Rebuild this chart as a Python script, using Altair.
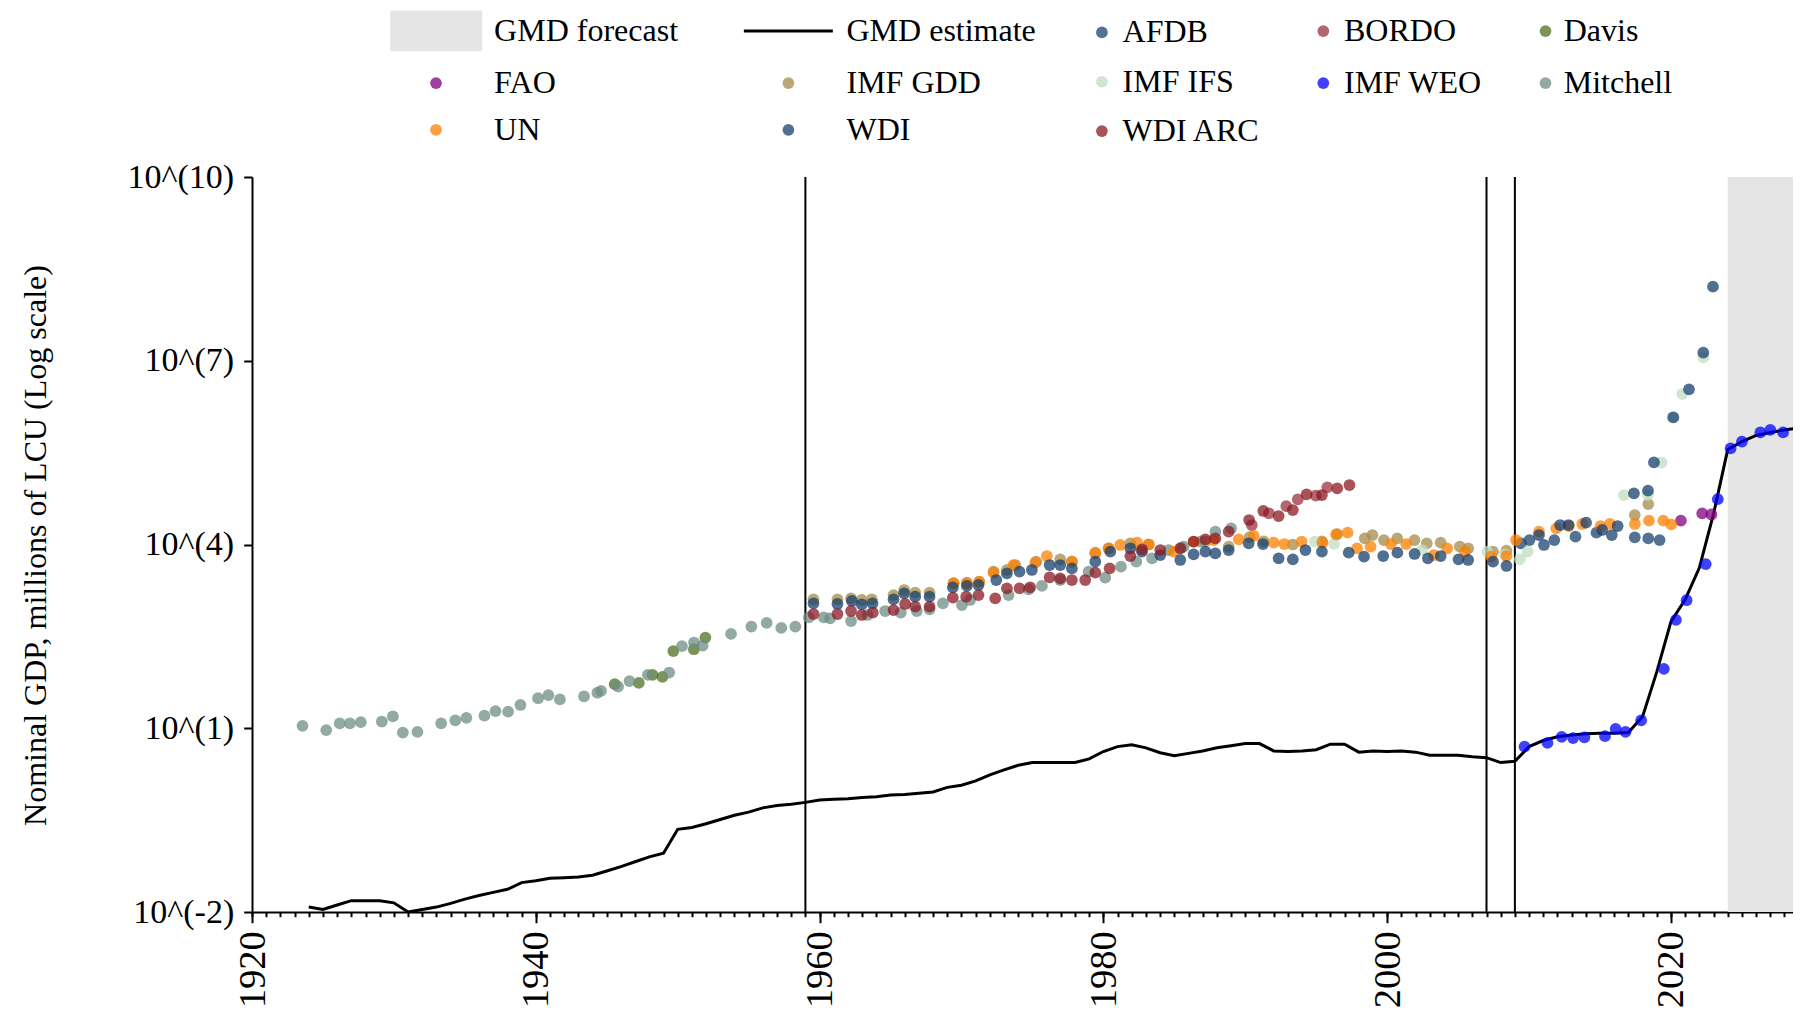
import altair as alt
import pandas as pd

FONT = "Liberation Serif"

# ---------------- data (values are log10 of nominal GDP, millions of LCU) ----------------
gmd_years = list(range(1924, 2030))
gmd_log = [
    -1.92, -1.96, -1.886, -1.815, -1.815, -1.815, -1.85, -2.0, -1.96, -1.92,   # 1924-1933
    -1.86, -1.79, -1.73, -1.68, -1.63, -1.52, -1.49, -1.45, -1.44, -1.43,      # 1934-1943
    -1.40, -1.33, -1.26, -1.18, -1.10, -1.04, -0.65, -0.62, -0.56, -0.49,      # 1944-1953
    -0.42, -0.37, -0.30, -0.26, -0.24, -0.21, -0.17, -0.16, -0.15, -0.13,      # 1954-1963
    -0.12, -0.09, -0.08, -0.06, -0.04, 0.035, 0.07, 0.14, 0.24, 0.32,          # 1964-1973
    0.395, 0.44, 0.44, 0.44, 0.44, 0.50, 0.62, 0.70, 0.73, 0.68,               # 1974-1983
    0.60, 0.55, 0.59, 0.63, 0.68, 0.715, 0.75, 0.75, 0.63, 0.62,               # 1984-1993
    0.63, 0.65, 0.74, 0.74, 0.61, 0.63, 0.62, 0.63, 0.61, 0.56,                # 1994-2003
    0.56, 0.56, 0.535, 0.52, 0.44, 0.46, 0.70, 0.80, 0.86, 0.89,               # 2004-2013
    0.91, 0.92, 0.92, 0.93, 1.19, 1.92, 2.74, 3.10, 3.62, 4.50,                # 2014-2023
    5.55, 5.68, 5.78, 5.83, 5.87, 5.90,                                        # 2024-2029
]

afdb_year = [2009.43, 2010.03, 2011.05, 2011.78, 2013.27, 2014.75, 2015.83, 2017.45, 2018.4, 2019.2]
afdb_log = [4.019, 4.073, 3.992, 4.073, 4.128, 4.193, 4.155, 4.117, 4.10, 4.073]

bordo_year = [1990.46, 1991.67, 1992.89, 1993.7, 1994.97, 1995.78]
bordo_log = [4.318, 4.509, 4.628, 4.737, 4.797, 4.933]

davis_year = [1945.56, 1947.26, 1948.23, 1948.93, 1949.69, 1951.14, 1951.95]
davis_log = [1.72, 1.74, 1.87, 1.84, 2.26, 2.29, 2.48]

fao_year = [2020.7, 2022.2, 2022.85]
fao_log = [4.389, 4.509, 4.49]

imf_gdd_year = [1959.57, 1961.26, 1962.22, 1962.97, 1963.68, 1965.21, 1965.96, 1966.74, 1967.75, 1969.44,
                1970.38, 1971.25, 1972.26, 1973.2, 1973.79, 1975.27, 1976.96, 1977.78, 1979.43, 1980.37,
                1981.9, 1983.2, 1985.5, 1987.2, 1988.83, 1990.3, 1991.3, 1993.35, 1995.4, 1996.48,
                1998.42, 1998.96, 1999.77, 2000.71, 2001.93, 2002.79, 2003.77, 2005.12, 2005.71, 2007.46,
                2008.4, 2017.45, 2018.4]
imf_gdd_log = [3.105, 3.105, 3.12, 3.094, 3.105, 3.175, 3.257, 3.214, 3.214, 3.366,
               3.377, 3.393, 3.557, 3.584, 3.665, 3.72, 3.758, 3.72, 3.856, 3.937,
               4.019, 4.0, 3.95, 4.05, 3.965, 4.12, 4.05, 4.0, 4.05, 4.17,
               4.10, 4.155, 4.073, 4.10, 4.073, 4.019, 4.03, 3.964, 3.937, 3.883,
               3.9, 4.48, 4.66]

imf_ifs_year = [1994.9, 1996.26, 2002.47, 2007.06, 2008.27, 2009.35, 2009.9, 2016.69, 2018.38, 2019.34,
                2020.1, 2020.8, 2022.28]
imf_ifs_log = [4.046, 4.01, 3.91, 3.883, 3.84, 3.758, 3.883, 4.808, 4.808, 5.336,
               6.076, 6.457, 7.056]

imf_weo_year = [2009.68, 2011.3, 2012.3, 2013.1, 2013.9, 2015.35, 2016.1, 2016.8, 2017.9, 2019.5,
                2020.35, 2021.1, 2022.45, 2023.3, 2024.2, 2025.0, 2026.3, 2027.0, 2027.9, 2029.2]
imf_weo_log = [0.70, 0.76, 0.86, 0.84, 0.85, 0.87, 0.99, 0.94, 1.13, 1.97,
               2.77, 3.09, 3.68, 4.74, 5.57, 5.68, 5.83, 5.87, 5.83, 5.90]

mitchell_year = [1923.56, 1925.23, 1926.18, 1926.9, 1927.67, 1929.15, 1929.93, 1930.63, 1931.66, 1933.33,
                 1934.33, 1935.11, 1936.38, 1937.16, 1938.05, 1938.92, 1940.16, 1940.89, 1941.7, 1943.4,
                 1944.34, 1944.6, 1945.8, 1946.6, 1947.9, 1949.4, 1950.3, 1951.15, 1951.76, 1953.76,
                 1955.19, 1956.27, 1957.3, 1958.29, 1959.24, 1960.3, 1960.74, 1962.22, 1963.37, 1964.62,
                 1965.72, 1966.85, 1967.75, 1968.69, 1970.03, 1970.61, 1973.32, 1974.73, 1975.67, 1976.96,
                 1978.96, 1980.13, 1981.24, 1982.32, 1983.43, 1984.6, 1985.66, 1986.83, 1987.89, 1989.0]
mitchell_log = [1.04, 0.97, 1.08, 1.08, 1.10, 1.11, 1.195, 0.93, 0.94, 1.08,
                1.13, 1.17, 1.205, 1.28, 1.27, 1.38, 1.49, 1.54, 1.47, 1.52,
                1.58, 1.61, 1.68, 1.77, 1.87, 1.91, 2.34, 2.40, 2.35, 2.54,
                2.66, 2.72, 2.64, 2.66, 2.81, 2.81, 2.795, 2.751, 2.849, 2.914,
                2.887, 2.914, 2.941, 3.04, 3.012, 3.094, 3.175, 3.268, 3.323, 3.42,
                3.557, 3.458, 3.638, 3.72, 3.774, 3.91, 3.965, 4.046, 4.21, 4.264]

un_year = [1969.44, 1970.38, 1971.25, 1972.26, 1973.67, 1975.2, 1976.02, 1977.78, 1979.43, 1980.37,
           1981.19, 1982.37, 1983.19, 1984.95, 1986.36, 1987.77, 1989.54, 1990.6, 1992.01, 1992.75,
           1993.97, 1995.45, 1996.4, 1997.21, 1997.88, 1998.83, 2000.26, 2001.34, 2003.28, 2004.23,
           2005.49, 2007.33, 2008.41, 2009.08, 2010.7, 2011.92, 2012.81, 2013.75, 2015.04, 2015.7,
           2017.46, 2018.45, 2019.46, 2020.02]
un_log = [3.37, 3.366, 3.39, 3.54, 3.665, 3.703, 3.812, 3.72, 3.866, 3.937,
          3.992, 4.03, 4.003, 3.883, 4.046, 4.073, 4.084, 4.139, 4.03, 4.008,
          4.046, 4.03, 4.166, 4.193, 3.937, 3.964, 4.008, 4.008, 3.828, 3.937,
          3.883, 3.801, 3.812, 4.073, 4.209, 4.264, 4.302, 4.335, 4.302, 4.335,
          4.335, 4.389, 4.389, 4.329]

wdi_year = [1959.57, 1961.26, 1962.27, 1962.97, 1963.73, 1965.21, 1965.96, 1966.74, 1967.75, 1969.39,
            1970.38, 1971.2, 1972.45, 1973.2, 1974.09, 1974.96, 1976.21, 1976.96, 1977.78, 1979.43,
            1980.49, 1981.9, 1982.72, 1984.01, 1985.42, 1986.36, 1987.19, 1987.89, 1988.83, 1990.24,
            1991.25, 1992.35, 1993.35, 1994.24, 1995.4, 1997.29, 1998.37, 1999.72, 2000.72, 2001.93,
            2002.87, 2003.77, 2005.03, 2005.71, 2007.46, 2008.41, 2010.7, 2012.19, 2012.78, 2014.02,
            2015.15, 2016.24, 2017.39, 2018.38, 2018.8, 2020.17, 2021.27, 2022.28, 2022.96]
wdi_log = [3.04, 3.029, 3.078, 3.023, 3.04, 3.105, 3.203, 3.148, 3.148, 3.301,
           3.323, 3.339, 3.42, 3.529, 3.557, 3.584, 3.665, 3.665, 3.611, 3.72,
           3.883, 3.937, 3.883, 3.828, 3.747, 3.84, 3.883, 3.856, 3.91, 4.019,
           4.008, 3.774, 3.758, 3.91, 3.883, 3.866, 3.801, 3.812, 3.866, 3.845,
           3.774, 3.812, 3.758, 3.747, 3.72, 3.649, 4.155, 4.318, 4.318, 4.356,
           4.237, 4.302, 4.835, 4.879, 5.341, 6.076, 6.533, 7.132, 8.209]

wdi_arc_year = [1959.57, 1961.26, 1962.22, 1962.97, 1963.75, 1965.21, 1966.03, 1966.74, 1967.75, 1969.39,
                1970.33, 1971.2, 1972.38, 1973.2, 1974.09, 1974.84, 1976.21, 1976.96, 1977.78, 1978.72,
                1979.43, 1980.44, 1981.9, 1982.72, 1984.01, 1985.42, 1986.36, 1987.19, 1987.89, 1988.83,
                1990.27, 1991.27, 1992.35, 1993.35, 1994.32, 1995.4, 1996.48, 1997.34]
wdi_arc_log = [2.865, 2.865, 2.914, 2.849, 2.887, 2.93, 3.029, 2.985, 2.985, 3.132,
               3.148, 3.175, 3.121, 3.284, 3.284, 3.301, 3.464, 3.448, 3.42, 3.42,
               3.54, 3.611, 3.812, 3.921, 3.91, 3.937, 4.046, 4.084, 4.10, 4.21,
               4.40, 4.547, 4.465, 4.563, 4.819, 4.808, 4.917, 4.971]

break_years = [1959, 2007, 2009]
x_min, x_max = 1920, 2028.6   # visible part of the year axis
forecast_start = [2024]

source_names = ["AFDB", "BORDO", "Davis", "FAO", "IMF GDD", "IMF IFS", "IMF WEO",
                "Mitchell", "UN", "WDI", "WDI ARC"]
source_colors = ["#1b4470", "#9c3240", "#507020", "#800080", "#a48b4b", "#c2ddc2",
                 "#0000ff", "#6e8e84", "#ff8000", "#163f6c", "#8b1823"]
forecast_color = "#e5e5e5"
estimate_color = "#000000"

# ---------------- tables ----------------
source_values = {
    "AFDB": (afdb_year, afdb_log), "BORDO": (bordo_year, bordo_log), "Davis": (davis_year, davis_log),
    "FAO": (fao_year, fao_log), "IMF GDD": (imf_gdd_year, imf_gdd_log),
    "IMF IFS": (imf_ifs_year, imf_ifs_log), "IMF WEO": (imf_weo_year, imf_weo_log),
    "Mitchell": (mitchell_year, mitchell_log), "UN": (un_year, un_log), "WDI": (wdi_year, wdi_log),
    "WDI ARC": (wdi_arc_year, wdi_arc_log),
}
frames = []
for name in source_names:
    yrs, lg = source_values[name]
    d = pd.DataFrame({"year": yrs, "lg": lg})
    d["series"] = name
    frames.append(d)
points_df = pd.concat(frames, ignore_index=True)
points_df["v"] = 10 ** points_df["lg"]

line_df = pd.DataFrame({"year": gmd_years, "lg": gmd_log})
line_df["v"] = 10 ** line_df["lg"]
line_df["series"] = "GMD estimate"

rules_df = pd.DataFrame({"year": break_years})
forecast_df = pd.DataFrame({"start": forecast_start, "end": [x_max], "series": ["GMD forecast"]})
color_of = dict(zip(source_names, source_colors))

# ---------------- scales / axes ----------------
xscale = alt.Scale(domain=[x_min, x_max], nice=False, zero=False)
yscale = alt.Scale(type="log", domain=[0.01, 1e10], nice=False)

x_main_axis = alt.Axis(values=list(range(1920, 2021, 20)), format="d", title=None, orient="bottom",
                       labelAngle=270, labelAlign="right", labelBaseline="middle", labelFont=FONT,
                       labelFontSize=38.5, labelColor="black", labelPadding=8, labelFlush=False,
                       labelOverlap=False, tickSize=10.7, tickWidth=2, tickColor="black",
                       domainColor="black", domainWidth=2, grid=False)
x_minor_axis = alt.Axis(values=list(range(1920, 2029)), title=None, orient="bottom", labels=False,
                        domain=False, grid=False, tickSize=4.7, tickWidth=2, tickColor="black")
y_axis = alt.Axis(values=[0.01, 10, 1e4, 1e7, 1e10],
                  labelExpr="'10^(' + round(log(datum.value) / LN10) + ')'",
                  title="Nominal GDP, millions of LCU (Log scale)", titleFont=FONT, titleFontSize=32,
                  titleFontWeight="normal", titleColor="black", titleAngle=270, titleX=-207, titleY=368,
                  titleAlign="center", titleBaseline="alphabetic",
                  labelFont=FONT, labelFontSize=34, labelColor="black", labelPadding=10,
                  labelOverlap=False, labelFlush=False,
                  tickSize=8.3, tickWidth=2, tickColor="black", domainColor="black", domainWidth=2,
                  grid=False)

PX, PY = 252.3, 177.2  # plot origin on the page
DOT = 138              # circle area in px^2


def legend_at(sym_x, row_y, label_x, half, rp, shape="circle", size=DOT, sw=0, op=0.75):
    """Legend whose first symbol is centred at page (sym_x, row_y) and labels start at label_x."""
    return alt.Legend(title=None, orient="none", legendX=sym_x - half - PX, legendY=row_y - half - PY,
                      direction="vertical", rowPadding=rp, padding=0,
                      labelFont=FONT, labelFontSize=32, labelColor="black", labelLimit=0,
                      labelOffset=label_x - sym_x - half, symbolType=shape, symbolSize=size,
                      symbolStrokeWidth=sw, symbolOpacity=op)


RECT = "M-1,-0.44L1,-0.44L1,0.44L-1,0.44Z"
ROW1, ROW2, ROW3 = 31.3, 83.3, 130.0

forecast = alt.Chart(forecast_df).mark_rect().encode(
    x=alt.X("start:Q", scale=xscale, axis=None), x2="end:Q",
    color=alt.Color("series:N", scale=alt.Scale(domain=["GMD forecast"], range=[forecast_color]),
                    legend=legend_at(436.5, ROW1, 494.4, 46, 15, shape=RECT, size=8464, op=1)))

rules = alt.Chart(rules_df).mark_rule(color="black", strokeWidth=2).encode(
    x=alt.X("year:Q", scale=xscale, axis=x_minor_axis))

line = alt.Chart(line_df).mark_line(strokeWidth=3, clip=True).encode(
    x=alt.X("year:Q", scale=xscale, axis=None),
    y=alt.Y("v:Q", scale=yscale, axis=y_axis),
    color=alt.Color("series:N", scale=alt.Scale(domain=["GMD estimate"], range=[estimate_color]),
                    legend=legend_at(788.65, ROW1, 846.8, 46, 15, shape="stroke", size=7921, sw=3, op=1)))

points = alt.Chart(points_df).mark_circle(size=DOT, opacity=0.75).encode(
    x=alt.X("year:Q", scale=xscale, axis=x_main_axis),
    y=alt.Y("v:Q", scale=yscale, axis=y_axis),
    color=alt.Color("series:N", scale=alt.Scale(domain=source_names, range=source_colors), legend=None))

# legend-only layers (no marks drawn), one per legend column
legend_groups = [
    (["FAO", "UN"], 436.3, ROW2, 494.4, ROW3 - ROW2 - 32),
    (["IMF GDD", "WDI"], 788.7, ROW2, 846.8, ROW3 - ROW2 - 32),
    (["AFDB", "IMF IFS", "WDI ARC"], 1102.2, ROW1 + 1.3, 1122.9, (ROW3 - ROW1) / 2 - 32),
    (["BORDO", "IMF WEO"], 1323.6, ROW1, 1344.3, ROW2 - ROW1 - 32),
    (["Davis", "Mitchell"], 1545.8, ROW1, 1564.0, ROW2 - ROW1 - 32),
]
legend_layers = []
for names, sx, ry, lx, rp in legend_groups:
    legend_layers.append(
        alt.Chart(points_df).transform_filter("false").mark_circle(size=DOT, opacity=0.75).encode(
            color=alt.Color("series:N",
                            scale=alt.Scale(domain=names, range=[color_of[n] for n in names]),
                            legend=legend_at(sx, ry, lx, 16, rp))))

# page: 1801 px wide with 8 px margins -> the whole chart must stay within 1785 x 1000
chart = alt.layer(forecast, rules, line, points, *legend_layers).resolve_scale(
    color="independent").resolve_axis(x="independent").properties(
    width=1541, height=735,
    padding={"left": 244, "top": 169, "right": 0, "bottom": 96},
    autosize=alt.AutoSizeParams(type="none"),
    background="white",
).configure_view(stroke=None)

chart.save("out.html", embed_options={"renderer": "svg", "actions": False})
